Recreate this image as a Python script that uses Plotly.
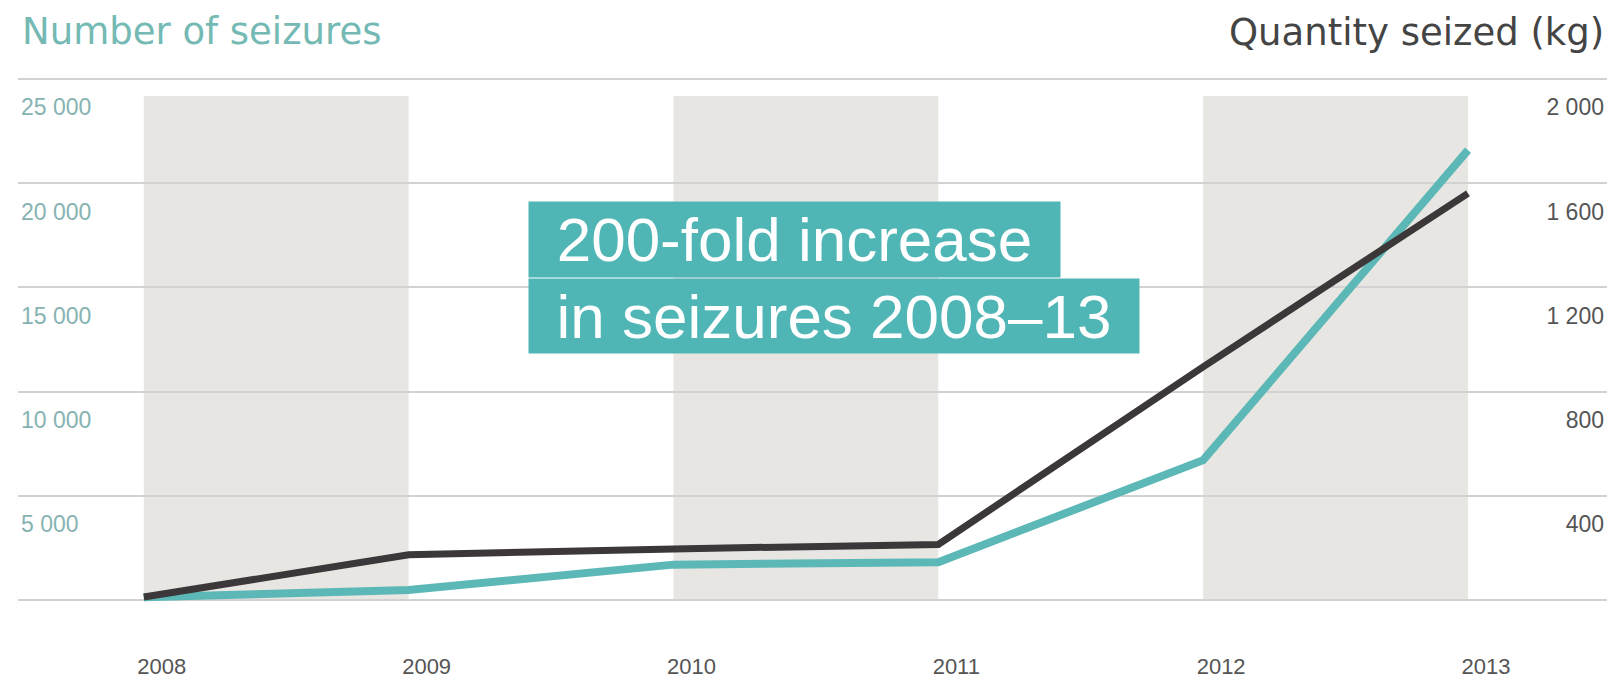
import plotly.graph_objects as go

years = [2008, 2009, 2010, 2011, 2012, 2013]
seizures = [110, 460, 1680, 1800, 6700, 21600]
quantity_kg = [10, 172, 195, 212, 895, 1562]

left_ticks = [0, 5000, 10000, 15000, 20000, 25000]
right_ticks = [0, 400, 800, 1200, 1600, 2000]
band_periods = [(2008, 2009), (2010, 2011), (2012, 2013)]

left_title = "Number of seizures"
right_title = "Quantity seized (kg)"
note_line1 = "200-fold increase"
note_line2 = "in seizures 2008–13"

TEAL = "#5cb8b6"
DARK = "#3c3739"
BOX = "#4fb5b5"

T, B = 69, 53
PH = 686 - T - B


def py(v):
    return (686 - B - v) / PH


fig = go.Figure()

fig.add_trace(go.Scatter(
    x=years, y=seizures, mode="lines", yaxis="y",
    line=dict(color=TEAL, width=8), hoverinfo="skip", showlegend=False,
))
fig.add_trace(go.Scatter(
    x=years, y=quantity_kg, mode="lines", yaxis="y2",
    line=dict(color=DARK, width=7), hoverinfo="skip", showlegend=False,
))

shapes = []
for a, b in band_periods:
    shapes.append(dict(type="rect", xref="x", yref="y", x0=a, x1=b, y0=0, y1=24200,
                       fillcolor="#e8e6e3", line=dict(width=0), layer="below"))

fig.update_layout(
    width=1614, height=686,
    margin=dict(l=18, r=7, t=T, b=B),
    paper_bgcolor="white", plot_bgcolor="white",
    shapes=shapes,
    xaxis=dict(
        range=[2007.525, 2013.525], tickvals=years, ticktext=[str(y) for y in years],
        showgrid=False, zeroline=False, showline=False, ticks="",
        tickfont=dict(family="Liberation Sans", size=22, color="#555555"),
        ticklabelstandoff=41, ticklabelshift=18,
    ),
    yaxis=dict(
        range=[-500, 25500], tickvals=left_ticks,
        ticktext=["" if v == 0 else f"{v:,}".replace(",", " ") for v in left_ticks],
        showgrid=True, gridcolor="#d2d2d2", gridwidth=2, zeroline=False,
        ticklabelposition="inside", ticklabelshift=28,
        tickfont=dict(family="Liberation Sans", size=23, color="#86b3b1"),
    ),
    yaxis2=dict(
        range=[-40, 2040], tickvals=right_ticks,
        ticktext=["" if v == 0 else f"{v:,}".replace(",", " ") for v in right_ticks],
        overlaying="y", side="right", showgrid=False, zeroline=False,
        ticklabelposition="inside", ticklabelshift=28,
        tickfont=dict(family="Liberation Sans", size=23, color="#555555"),
    ),
    annotations=[
        dict(text=left_title, xref="paper", yref="paper", x=(20 - 18) / 1589, y=py(30),
             xanchor="left", yanchor="middle", showarrow=False,
             font=dict(family="DejaVu Sans", size=37, color="#74b9b3")),
        dict(text=right_title, xref="paper", yref="paper", x=(1606 - 18) / 1589, y=py(31),
             xanchor="right", yanchor="middle", showarrow=False,
             font=dict(family="DejaVu Sans", size=37, color="#444444")),
        dict(text=note_line1, xref="paper", yref="paper", x=(528 - 18) / 1589, y=py(246.5),
             xanchor="left", yanchor="middle", showarrow=False, width=531, height=75,
             align="center", valign="middle", bgcolor=BOX, borderpad=0,
             font=dict(family="Liberation Sans", size=62, color="white")),
        dict(text=note_line2, xref="paper", yref="paper", x=(528 - 18) / 1589, y=py(326),
             xanchor="left", yanchor="middle", showarrow=False, width=610, height=74,
             align="center", valign="middle", bgcolor=BOX, borderpad=0,
             font=dict(family="Liberation Sans", size=62, color="white")),
    ],
)

fig.write_html("out.html", config={"displayModeBar": False},
               post_script="document.body.style.margin='0px';document.body.style.overflow='hidden';")
